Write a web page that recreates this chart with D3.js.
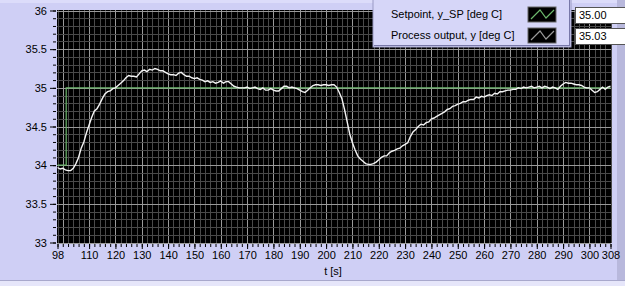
<!DOCTYPE html>
<html>
<head>
<meta charset="utf-8">
<script src="https://cdn.jsdelivr.net/npm/d3@7"></script>
<style>
  body { margin: 0; background: #cfcff5; }
  svg { display: block; }
  text { font-family: "Liberation Sans", Arial, sans-serif; font-size: 11px; fill: #000; }
</style>
</head>
<body>
<svg width="625" height="286"></svg>
<script>
// time axis: one sample per second from 98 to 308
let tStart = 98, tEnd = 308;

// process output y [deg C], one value per second
let processOut = [
  33.97, 33.95, 33.96, 33.94, 33.93, 33.93, 33.96, 34.02, 34.10, 34.22,
  34.30, 34.42, 34.52, 34.62, 34.70, 34.73, 34.79, 34.86, 34.92, 34.95,
  34.96, 34.99, 35.00, 35.03, 35.06, 35.09, 35.13, 35.16, 35.15, 35.15,
  35.14, 35.18, 35.22, 35.23, 35.21, 35.24, 35.23, 35.25, 35.24, 35.22,
  35.22, 35.20, 35.18, 35.17, 35.17, 35.16, 35.19, 35.20, 35.17, 35.15,
  35.15, 35.13, 35.12, 35.13, 35.11, 35.10, 35.08, 35.09, 35.07, 35.08,
  35.06, 35.07, 35.09, 35.06, 35.08, 35.08, 35.05, 35.02, 35.01, 35.00,
  35.00, 35.00, 35.01, 34.99, 35.00, 35.01, 34.99, 34.98, 35.00, 34.97,
  34.97, 34.99, 34.97, 34.96, 34.96, 34.99, 35.02, 35.02, 35.00, 35.01,
  35.00, 34.99, 34.97, 34.95, 34.94, 34.97, 35.00, 35.03, 35.04, 35.04,
  35.03, 35.04, 35.04, 35.03, 35.04, 35.04, 35.01, 34.94, 34.86, 34.72,
  34.56, 34.40, 34.29, 34.20, 34.12, 34.08, 34.05, 34.02, 34.01, 34.01,
  34.02, 34.04, 34.07, 34.10, 34.12, 34.12, 34.16, 34.18, 34.19, 34.21,
  34.22, 34.25, 34.27, 34.29, 34.37, 34.43, 34.46, 34.50, 34.53, 34.52,
  34.55, 34.56, 34.60, 34.61, 34.63, 34.65, 34.67, 34.69, 34.72, 34.73,
  34.76, 34.77, 34.79, 34.80, 34.82, 34.82, 34.84, 34.85, 34.85, 34.88,
  34.87, 34.89, 34.88, 34.90, 34.91, 34.90, 34.93, 34.92, 34.95, 34.95,
  34.96, 34.97, 34.97, 34.98, 34.98, 35.00, 34.99, 35.01, 35.00, 35.01,
  35.02, 35.00, 35.01, 35.02, 35.00, 35.02, 35.01, 34.99, 35.01, 35.00,
  34.98, 35.02, 35.05, 35.07, 35.06, 35.06, 35.05, 35.04, 35.04, 35.03,
  35.01, 35.00, 35.00, 34.97, 34.94, 34.95, 34.98, 35.01, 34.98, 35.01,
  35.02
];

// setpoint y_SP: step from 34 to 35
let spTimes = [98, 101.3, 308];
let spValues = [34, 35, 35];

let xTickLabels = [98, 110, 120, 130, 140, 150, 160, 170, 180, 190, 200,
  210, 220, 230, 240, 250, 260, 270, 280, 290, 300, 308];
let yTickLabels = [33, 33.5, 34, 34.5, 35, 35.5, 36];

let legendNames = ["Setpoint, y_SP [deg C]", "Process output, y [deg C]"];
let legendValues = ["35.00", "35.03"];

let svg = d3.select('svg');
let plot = { left: 57, right: 611, top: 10, bottom: 243 };

let xScale = d3.scaleLinear().domain([tStart, tEnd]).range([plot.left + 0.5, plot.right - 0.5]);
let yScale = d3.scaleLinear().domain([33, 36]).range([plot.bottom - 0.5, plot.top + 0.5]);

// frame
svg.append('rect').attr('x', 0).attr('y', 0).attr('width', 625).attr('height', 286).style('fill', '#cfcff5');
svg.append('rect').attr('x', 0).attr('y', 0).attr('width', 625).attr('height', 3).style('fill', '#dcdcfa');
svg.append('rect').attr('x', 0).attr('y', 280).attr('width', 625).attr('height', 6).style('fill', '#e6e6fa');
svg.append('line').attr('x1', 0).attr('x2', 625).attr('y1', 280.5).attr('y2', 280.5).style('stroke', '#a8a8cc');
svg.append('rect').attr('x', 617).attr('y', 0).attr('width', 8).attr('height', 280).style('fill', '#b8b8dc');

// plot background
svg.append('rect')
  .attr('x', plot.left).attr('y', plot.top)
  .attr('width', plot.right - plot.left).attr('height', plot.bottom - plot.top)
  .style('fill', '#000');

let grid = svg.append('g');
let xGrid = d3.range(tStart, tEnd + 1, 2);
let yGrid = d3.range(0, 31).map(i => 33 + i / 10);

grid.selectAll('.vg').data(xGrid).enter().append('line')
  .attr('x1', d => Math.round(xScale(d)) + 0.5).attr('x2', d => Math.round(xScale(d)) + 0.5)
  .attr('y1', plot.top).attr('y2', plot.bottom)
  .style('stroke', d => d % 10 === 0 ? '#9a9a9a' : '#4a4a4a');

grid.selectAll('.hg').data(yGrid).enter().append('line')
  .attr('y1', d => Math.round(yScale(d)) + 0.5).attr('y2', d => Math.round(yScale(d)) + 0.5)
  .attr('x1', plot.left).attr('x2', plot.right)
  .style('stroke', (d, i) => i % 5 === 0 ? '#9a9a9a' : '#4a4a4a');

// axes
let yAxis = d3.axisLeft(yScale).tickValues(yTickLabels).tickSize(6).tickPadding(3)
  .tickFormat(d3.format('~g'));
let yMinor = d3.axisLeft(yScale).tickValues(yGrid).tickSize(3).tickFormat('');
let xAxis = d3.axisBottom(xScale).tickValues(xTickLabels).tickSize(5).tickPadding(2);
let xMinor = d3.axisBottom(xScale).tickValues(xGrid).tickSize(3).tickFormat('');

svg.append('g').attr('transform', 'translate(' + (plot.left - 1) + ',0)').call(yMinor);
svg.append('g').attr('transform', 'translate(' + (plot.left - 1) + ',0)').call(yAxis);
svg.append('g').attr('transform', 'translate(0,' + (plot.bottom + 1) + ')').call(xMinor);
svg.append('g').attr('transform', 'translate(0,' + (plot.bottom + 1) + ')').call(xAxis);

svg.selectAll('.domain').remove();
svg.selectAll('.tick line').style('stroke', '#000');
svg.selectAll('.tick text').style('font-family', '"Liberation Sans", Arial, sans-serif').style('font-size', '11px');

svg.append('text').attr('x', 333).attr('y', 275).style('text-anchor', 'middle').text('t [s]');

// data lines
let spLine = d3.line().x(d => xScale(d[0])).y(d => yScale(d[1])).curve(d3.curveStepAfter);
svg.append('path')
  .datum(spTimes.map((t, i) => [t, spValues[i]]))
  .attr('d', spLine)
  .style('fill', 'none').style('stroke', '#6cb86c').style('stroke-width', 1.2);

let line = d3.line().x((d, i) => xScale(tStart + i)).y(d => yScale(d));
svg.append('path')
  .datum(processOut)
  .attr('d', line)
  .style('fill', 'none').style('stroke', '#f4f4f4').style('stroke-width', 1.4);

// legend
let lg = svg.append('g');
lg.append('rect').attr('x', 373).attr('y', -2).attr('width', 198).attr('height', 49)
  .style('fill', '#d6d6f8').style('stroke', '#9a9ac4');
lg.append('line').attr('x1', 374).attr('x2', 570).attr('y1', 45.5).attr('y2', 45.5).style('stroke', '#7878a8');
lg.append('line').attr('x1', 569.5).attr('x2', 569.5).attr('y1', 0).attr('y2', 46).style('stroke', '#7878a8');

let iconColors = ['#6cb86c', '#9a9a9a'];
legendNames.forEach((name, i) => {
  let y0 = 7 + i * 21;
  lg.append('text').attr('x', 391).attr('y', y0 + 11).text(name);
  lg.append('rect').attr('x', 528).attr('y', y0).attr('width', 28).attr('height', 15)
    .style('fill', '#000').style('stroke', '#666');
  lg.append('path')
    .attr('d', 'M' + 531 + ',' + (y0 + 12) + 'L' + 540 + ',' + (y0 + 3) + 'L' + 546 + ',' + (y0 + 11) + 'L' + 554 + ',' + (y0 + 3))
    .style('fill', 'none').style('stroke', iconColors[i]).style('stroke-width', 1.2);

  svg.append('rect').attr('x', 575.5).attr('y', y0 + 0.5).attr('width', 52).attr('height', 16)
    .style('fill', '#fff').style('stroke', '#555');
  svg.append('text').attr('x', 579).attr('y', y0 + 12).text(legendValues[i]);
});
</script>
</body>
</html>
